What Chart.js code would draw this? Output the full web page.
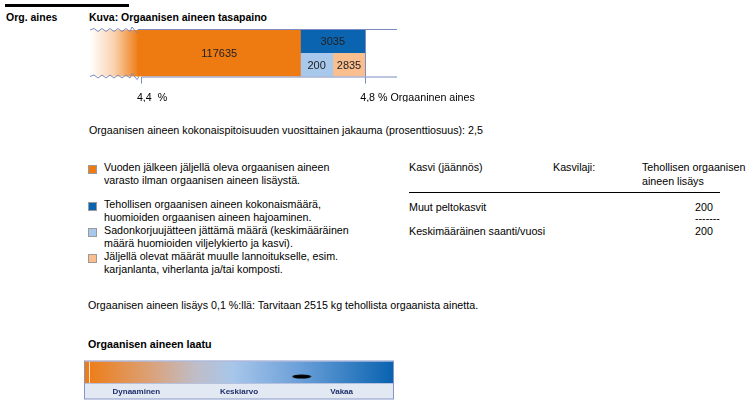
<!DOCTYPE html>
<html>
<head>
<meta charset="utf-8">
<script src="https://cdn.jsdelivr.net/npm/chart.js@4.4.1/dist/chart.umd.min.js"></script>
<style>
  body { margin: 0; width: 746px; height: 407px; background: #fff; position: relative; overflow: hidden;
         font-family: 'Liberation Sans', Arial, sans-serif; font-size: 10.7px; color: #000; }
  .t { position: absolute; line-height: 12px; white-space: nowrap; }
  .b { font-weight: bold; }
  .leg { position: absolute; left: 104px; line-height: 13px; white-space: nowrap; }
  .sq { position: absolute; left: 88px; width: 7px; height: 7px; border: 1px solid #9a9a9a; }
  #c1 { position: absolute; left: 80px; top: 20px; }
  #c2 { position: absolute; left: 80px; top: 355px; }
</style>
</head>
<body>
<div style="position:absolute;left:5px;top:4px;width:124px;height:3px;background:#000"></div>
<div class="t b" style="left:6px;top:11px;font-size:10.5px">Org. aines</div>
<div class="t b" style="left:89px;top:11px;font-size:10.5px">Kuva: Orgaanisen aineen tasapaino</div>

<canvas id="c1" width="420" height="90"></canvas>

<div class="t" style="left:89px;top:124px">Orgaanisen aineen kokonaispitoisuuden vuosittainen jakauma (prosenttiosuus): 2,5</div>

<div class="sq" style="top:165px;background:#ee7a12"></div>
<div class="leg" style="top:161px">Vuoden jälkeen jäljellä oleva orgaanisen aineen<br>varasto ilman orgaanisen aineen lisäystä.</div>
<div class="sq" style="top:202px;background:#0b64b0"></div>
<div class="leg" style="top:198px">Tehollisen orgaanisen aineen kokonaismäärä,<br>huomioiden orgaanisen aineen hajoaminen.</div>
<div class="sq" style="top:228px;background:#a8c8ec"></div>
<div class="leg" style="top:224px">Sadonkorjuujätteen jättämä määrä (keskimääräinen<br>määrä huomioiden viljelykierto ja kasvi).</div>
<div class="sq" style="top:254px;background:#fbbf8f"></div>
<div class="leg" style="top:250px">Jäljellä olevat määrät muulle lannoitukselle, esim.<br>karjanlanta, viherlanta ja/tai komposti.</div>

<div class="t" style="left:409px;top:161px">Kasvi (jäännös)</div>
<div class="t" style="left:553px;top:161px">Kasvilaji:</div>
<div class="t" style="left:642px;top:160px;line-height:14px">Tehollisen orgaanisen<br>aineen lisäys</div>
<div style="position:absolute;left:409px;top:192px;width:311px;height:1px;background:#000"></div>
<div class="t" style="left:409px;top:201px">Muut peltokasvit</div>
<div class="t" style="left:695px;top:201px">200</div>
<div class="t" style="left:695px;top:212px">-------</div>
<div class="t" style="left:409px;top:225px">Keskimääräinen saanti/vuosi</div>
<div class="t" style="left:695px;top:225px">200</div>

<div class="t" style="left:88px;top:299px">Orgaanisen aineen lisäys 0,1 %:llä: Tarvitaan 2515 kg tehollista orgaanista ainetta.</div>

<div class="t b" style="left:88px;top:338px">Orgaanisen aineen laatu</div>
<canvas id="c2" width="320" height="50"></canvas>

<script>
// Tasapainokuvan osat (kg) ja niiden rajat prosenttiasteikolla
const segLabels = ['117635', '3035', '200', '2835'];
const segColors = ['#ee7a12', '#0b64b0', '#a8c8ec', '#fbbf8f'];
const segStart = [4.393, 4.684, 4.684, 4.742];
const segEnd = [4.684, 4.8, 4.742, 4.8];
const segRows = [['ylä', 'ala'], ['ylä'], ['ala'], ['ala']];
const rows = ['ylä', 'ala'];
const axisTicks = [4.4, 4.8];
const axisLabels = ['4,4  %', '4,8 % Orgaaninen aines'];
const fadeStart = 4.307;
const axisMax = 4.857;

// Laatuasteikko
const qualityLabels = ['Dynaaminen', 'Keskiarvo', 'Vakaa'];
const qualityTicks = [0.5, 1.5, 2.5];
const qualityValue = 2.11;

Chart.defaults.font.family = "'Liberation Sans', Arial, sans-serif";
Chart.defaults.animation = false;
const frameColor = '#7b8cc0';

const datasets = segLabels.map((lab, i) => ({
  label: lab,
  data: rows.map(r => segRows[i].includes(r) ? [segStart[i], segEnd[i]] : null),
  backgroundColor: segColors[i],
  borderWidth: 0,
  grouped: false,
  barPercentage: 1,
  categoryPercentage: 1
}));

// häivytys ja siksak-reunat vasemmalla
const fadePlugin = {
  id: 'fade',
  beforeDatasetsDraw(chart) {
    const { ctx, chartArea: a, scales: { x } } = chart;
    const x0 = x.getPixelForValue(fadeStart);
    const x1 = x.getPixelForValue(segStart[0]) + 1;
    const g = ctx.createLinearGradient(x0, 0, x1, 0);
    g.addColorStop(0, 'rgba(238,122,18,0)');
    g.addColorStop(0.5, 'rgba(238,122,18,0.35)');
    g.addColorStop(1, 'rgba(238,122,18,1)');
    ctx.save();
    ctx.fillStyle = g;
    ctx.fillRect(x0, a.top + 1, x1 - x0, a.bottom - a.top - 1);
    ctx.strokeStyle = frameColor;
    ctx.lineWidth = 1;
    [a.top + 1, a.bottom].forEach(y => {
      ctx.beginPath();
      ctx.moveTo(x0, y);
      let px = x0, k = 0;
      while (px < x1 - 12) {
        px += 4;
        ctx.lineTo(px, y + (k % 2 ? 1.5 : -1.5));
        k++;
      }
      ctx.lineTo(x1 - 7, y - 3);
      ctx.lineTo(x1 - 2, y + 3);
      ctx.lineTo(x1, y);
      ctx.stroke();
    });
    ctx.restore();
  },
  afterDatasetsDraw(chart) {
    const { ctx, chartArea: a, scales: { x } } = chart;
    const xs = x.getPixelForValue(segStart[0]);
    const xt = x.getPixelForValue(axisTicks[0]);
    const xe = x.getPixelForValue(axisTicks[1]);
    ctx.save();
    ctx.strokeStyle = frameColor;
    ctx.lineWidth = 1;
    ctx.beginPath();
    ctx.moveTo(xs, a.top + 0.5); ctx.lineTo(a.right, a.top + 0.5);
    ctx.moveTo(xt, a.bottom + 0.5); ctx.lineTo(a.right, a.bottom + 0.5);
    ctx.moveTo(Math.round(xe) + 0.5, a.top); ctx.lineTo(Math.round(xe) + 0.5, a.bottom);
    ctx.stroke();
    // osien arvot
    ctx.fillStyle = '#222';
    ctx.font = "11px 'Liberation Sans', Arial, sans-serif";
    ctx.textAlign = 'center';
    ctx.textBaseline = 'middle';
    chart.data.datasets.forEach((ds, i) => {
      const els = chart.getDatasetMeta(i).data.filter((el, j) => ds.data[j]);
      if (!els.length) return;
      const cx = (els[0].x + els[0].base) / 2;
      const cy = els.reduce((s, el) => s + el.y, 0) / els.length;
      ctx.fillText(ds.label, cx, cy + 1);
    });
    ctx.restore();
  }
};

new Chart(document.getElementById('c1'), {
  type: 'bar',
  data: { labels: rows, datasets: datasets },
  options: {
    indexAxis: 'y',
    responsive: false,
    layout: { padding: { left: 10, top: 9, right: 103, bottom: 8 } },
    plugins: { legend: { display: false }, tooltip: { enabled: false } },
    scales: {
      y: { display: false },
      x: {
        min: fadeStart,
        max: axisMax,
        afterBuildTicks: s => { s.ticks = axisTicks.map(v => ({ value: v })); },
        afterFit: s => { s.height = 25.5; s.paddingLeft = 0; s.paddingRight = 0; },
        border: { display: false },
        grid: { drawOnChartArea: false, tickLength: 7, tickColor: frameColor },
        ticks: {
          align: 'start',
          labelOffset: -5,
          padding: 8,
          color: '#000',
          font: { size: 10.7 },
          callback: v => axisLabels[axisTicks.indexOf(v)]
        }
      }
    }
  },
  plugins: [fadePlugin]
});

// laatupalkin liukuväri, alareunan kaista ja kehys
const qualityPlugin = {
  id: 'quality',
  beforeDraw(chart) {
    const { ctx, chartArea: a } = chart;
    const g = ctx.createLinearGradient(a.left, 0, a.right, 0);
    g.addColorStop(0, '#ef7b12');
    g.addColorStop(0.22, '#daa37c');
    g.addColorStop(0.36, '#bfbdc8');
    g.addColorStop(0.48, '#a7c6ea');
    g.addColorStop(0.7, '#6a9fd8');
    g.addColorStop(1, '#0963b0');
    ctx.save();
    ctx.fillStyle = g;
    ctx.fillRect(a.left, a.top, a.right - a.left, a.bottom - a.top);
    ctx.fillStyle = 'rgba(255,255,255,0.8)';
    ctx.fillRect(a.left + 4, a.top, 1, a.bottom - a.top);
    ctx.fillStyle = '#e3e9f3';
    ctx.fillRect(a.left, a.bottom, a.right - a.left, 16);
    ctx.strokeStyle = '#8796c8';
    ctx.lineWidth = 1;
    ctx.strokeRect(a.left - 0.5, a.top - 0.5, a.right - a.left + 1, a.bottom - a.top + 16.5);
    ctx.strokeStyle = '#b6c2e0';
    ctx.beginPath();
    ctx.moveTo(a.left, a.bottom + 0.5); ctx.lineTo(a.right, a.bottom + 0.5);
    ctx.stroke();
    ctx.restore();
  }
};

const dot = document.createElement('canvas');
dot.width = 20; dot.height = 5;
const dctx = dot.getContext('2d');
dctx.fillStyle = '#000';
dctx.beginPath();
dctx.ellipse(10, 2.5, 9.5, 2, 0, 0, Math.PI * 2);
dctx.fill();

new Chart(document.getElementById('c2'), {
  type: 'scatter',
  data: { datasets: [{ data: [{ x: qualityValue, y: 0.3 }], pointStyle: dot }] },
  options: {
    responsive: false,
    layout: { padding: { left: 5, top: 6.5, right: 7, bottom: 6 } },
    plugins: { legend: { display: false }, tooltip: { enabled: false } },
    scales: {
      y: { display: false, min: 0, max: 1 },
      x: {
        min: 0,
        max: 3,
        afterBuildTicks: s => { s.ticks = qualityTicks.map(v => ({ value: v })); },
        afterFit: s => { s.height = 16; s.paddingLeft = 0; s.paddingRight = 0; },
        border: { display: false },
        grid: { display: false, drawTicks: false },
        ticks: {
          padding: 4,
          color: '#1f2f6b',
          font: { size: 8, weight: 'bold' },
          callback: v => qualityLabels[qualityTicks.indexOf(v)]
        }
      }
    }
  },
  plugins: [qualityPlugin]
});
</script>
</body>
</html>
